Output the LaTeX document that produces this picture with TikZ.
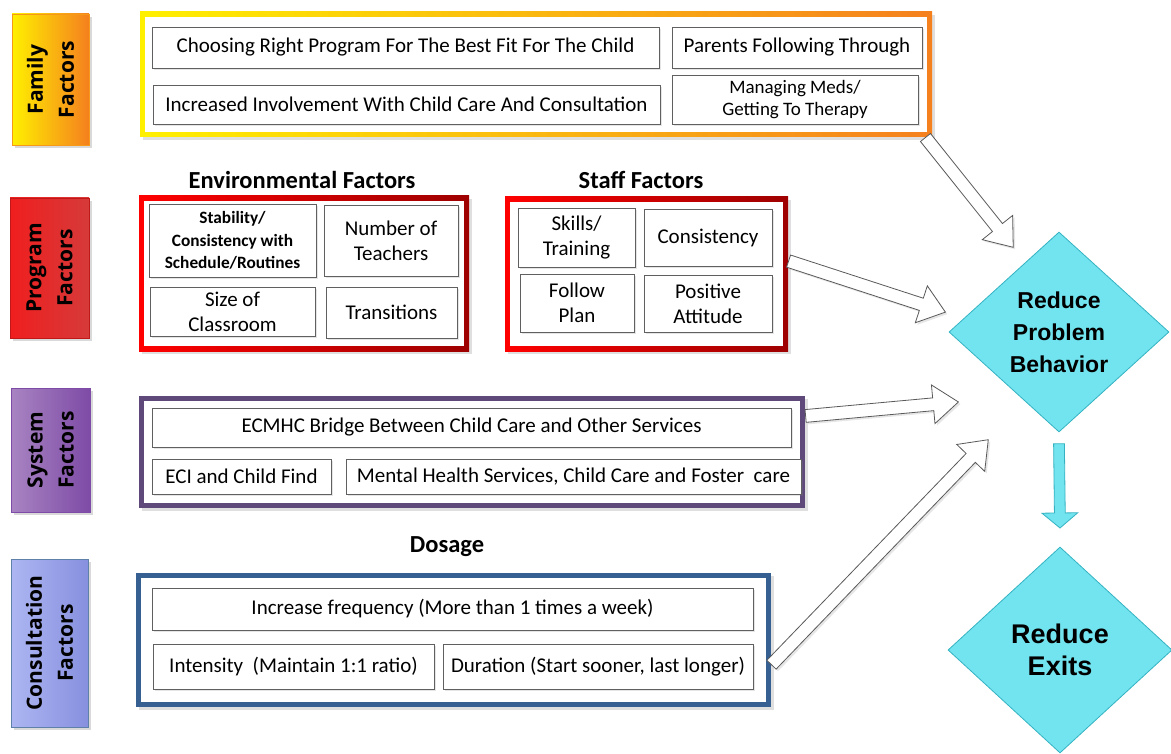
\documentclass[tikz,border=0pt]{standalone}
\usepackage{fontspec}
\setmainfont{Carlito}
\newfontfamily\labelfont{Open Sans}
\newfontfamily\goalfont{Liberation Sans}
\usetikzlibrary{shapes.geometric,shapes.arrows,shadows,calc}
\usepackage{xcolor}

\definecolor{famyellow}{HTML}{FFF000}
\definecolor{famorange}{HTML}{F5801E}
\definecolor{progred}{HTML}{F01E1E}
\definecolor{progdark}{HTML}{D63A3A}
\definecolor{framered}{HTML}{FF0000}
\definecolor{framedark}{HTML}{9E0000}
\definecolor{syslight}{HTML}{A884C2}
\definecolor{sysdark}{HTML}{7E4BA6}
\definecolor{sysframe}{HTML}{5F497A}
\definecolor{conslight}{HTML}{ADB6F2}
\definecolor{consdark}{HTML}{8790DE}
\definecolor{consframe}{HTML}{376092}
\definecolor{goalfill}{HTML}{72E4EF}
\definecolor{goaldraw}{HTML}{34B2C2}

\begin{document}
\begin{tikzpicture}[x=1pt,y=-1pt,
sidelabel/.style={
	rotate=90, inner sep=0pt, align=center, shading angle=-45,
	font=\labelfont\bfseries\fontsize{21}{31}\selectfont,
	drop shadow={opacity=0.3, shadow xshift=3pt, shadow yshift=-3pt},
},
frame/.style={
	inner sep=0pt,
	drop shadow={opacity=0.25, shadow xshift=3pt, shadow yshift=-3pt},
	path picture={\fill[white] ([shift={(5pt,-5pt)}]path picture bounding box.north west) rectangle ([shift={(-5pt,5pt)}]path picture bounding box.south east);},
},
item/.style={
	draw=gray!75!black, fill=white, line width=0.9pt,
	inner sep=1pt, align=center,
	font=\fontsize{21}{25}\selectfont,
	drop shadow={opacity=0.2, shadow xshift=2pt, shadow yshift=-2pt},
},
title/.style={font=\bfseries\fontsize{24.5}{28}\selectfont},
goal/.style={
	diamond, inner sep=0pt, align=center,
	fill=goalfill, draw=goaldraw, line width=0.8pt,
	font=\goalfont\bfseries,
},
bigarrow/.style={
	single arrow, draw=gray!70!black, fill=white, line width=0.8pt,
	inner sep=6pt, single arrow head extend=13pt,
	single arrow tip angle=75, single arrow head indent=0pt,
	sloped, allow upside down, pos=0, anchor=tail,
	drop shadow={opacity=0.2, shadow xshift=2pt, shadow yshift=-2pt},
},
downarrow/.style={
	single arrow, draw=goaldraw, fill=goalfill, line width=0.8pt,
	inner sep=5pt, single arrow head extend=12.5pt,
	single arrow tip angle=100, single arrow head indent=0pt,
	sloped, allow upside down, pos=0, anchor=tail,
},
]
\useasboundingbox (0,0) rectangle (1171,754);

% side labels
\node[sidelabel, left color=famyellow, right color=famorange, draw=famorange!80!yellow,
	minimum width=131pt, minimum height=77pt] (famlabel) at (50.5,79.5) {Family\\Factors};
\node[sidelabel, left color=progred, right color=progdark, draw=progred!80!black,
	minimum width=140pt, minimum height=79pt] (proglabel) at (49.5,268) {Program\\Factors};
\node[sidelabel, left color=syslight, right color=sysdark, draw=sysdark,
	minimum width=124pt, minimum height=79pt] (syslabel) at (50.5,450) {System\\Factors};
\node[sidelabel, left color=conslight, right color=consdark, draw=consframe!80,
	minimum width=168pt, minimum height=77pt] (conslabel) at (49.5,643) {Consultation\\Factors};

% family factors
\node[frame, left color=famyellow, right color=famorange,
	minimum width=792pt, minimum height=125pt] (famframe) at (536,74.5) {};
\node[item, minimum width=507pt, minimum height=41pt] (choose) at (405.5,47.5)
	{Choosing Right Program For The Best Fit For The Child};
\node[item, minimum width=250pt, minimum height=41pt] (parents) at (797,47.5)
	{Parents Following Through};
\node[item, minimum width=507pt, minimum height=39pt] (involve) at (406.5,104.5)
	{Increased Involvement With Child Care And Consultation};
\node[item, minimum width=246pt, minimum height=49pt, font=\fontsize{19}{22}\selectfont] (meds) at (795,99.5)
	{Managing Meds/\\Getting To Therapy};

% program factors
\node[title] (envtitle) at (302,180) {Environmental Factors};
\node[frame, left color=framered, right color=framedark,
	minimum width=330pt, minimum height=155pt] (envframe) at (304,273.5) {};
\node[item, minimum width=167pt, minimum height=73pt, font=\bfseries\fontsize{17.3}{22.5}\selectfont] (stability) at (232.5,240.5)
	{Stability/\\Consistency with\\Schedule/Routines};
\node[item, minimum width=134pt, minimum height=71pt] (teachers) at (391,240.5) {Number of\\Teachers};
\node[item, minimum width=165pt, minimum height=49pt] (classroom) at (232.5,311.5) {Size of\\Classroom};
\node[item, minimum width=131pt, minimum height=51pt] (transitions) at (391.5,312.5) {Transitions};

\node[title] (stafftitle) at (641,180) {Staff Factors};
\node[frame, left color=framered, right color=framedark,
	minimum width=283pt, minimum height=154pt] (staffframe) at (646.5,274) {};
\node[item, minimum width=117pt, minimum height=59pt] (skills) at (576.5,237.5) {Skills/\\Training};
\node[item, minimum width=128pt, minimum height=57pt] (consistency) at (708,237.5) {Consistency};
\node[item, minimum width=114pt, minimum height=58pt] (follow) at (577,303) {Follow\\Plan};
\node[item, minimum width=128pt, minimum height=57pt] (attitude) at (708,303.5) {Positive\\Attitude};

% system factors
\node[frame, fill=sysframe, minimum width=666pt, minimum height=112pt] (sysframe) at (472,452) {};
\node[item, minimum width=639pt, minimum height=39pt] (bridge) at (471.5,427.5)
	{ECMHC Bridge Between Child Care and Other Services};
\node[item, minimum width=179pt, minimum height=35pt] (eci) at (241.5,476.5) {ECI and Child Find};
\node[item, minimum width=455pt, minimum height=35pt] (mental) at (573.5,476.5)
	{Mental Health Services, Child Care and Foster\ \ care};

% consultation factors
\node[title] (dosagetitle) at (447,547) {Dosage};
\node[frame, fill=consframe, minimum width=635pt, minimum height=134pt] (consframe) at (453.5,640) {};
\node[item, minimum width=601pt, minimum height=42pt] (frequency) at (452.5,609)
	{Increase frequency (More than 1 times a week)};
\node[item, minimum width=281pt, minimum height=45pt] (intensity) at (293.5,666.5)
	{Intensity\ \ (Maintain 1:1 ratio)};
\node[item, minimum width=310pt, minimum height=45pt] (duration) at (598,666.5)
	{Duration (Start sooner, last longer)};

% outcomes
\node[goal, minimum width=220pt, minimum height=200pt, font=\goalfont\bfseries\fontsize{23}{32}\selectfont]
	(behavior) at (1059,332) {Reduce\\Problem\\Behavior};
\node[goal, minimum width=224pt, minimum height=206pt, font=\goalfont\bfseries\fontsize{27}{32}\selectfont]
	(exits) at (1060,650) {Reduce\\Exits};

% arrow ends
\coordinate (famstart) at ($(famframe.south east)+(-7,0)$);
\coordinate (staffstart) at ($(staffframe.east)+(0,-13)$);
\coordinate (sysstart) at ($(sysframe.east)+(0,-36)$);
\coordinate (consstart) at ($(consframe.east)+(0,25)$);
\coordinate (famtip) at ($(behavior.center)+(-46,-85)$);
\coordinate (stafftip) at ($(behavior.center)+(-114,-20)$);
\coordinate (systip) at ($(behavior.center)+(-101,70)$);
\coordinate (constip) at ($(behavior.center)+(-71,108)$);
\coordinate (downstart) at ($(behavior.south)+(0,11)$);
\coordinate (downtip) at ($(exits.north)+(0,-19)$);

\path let \p1=($(famtip)-(famstart)$), \n1={veclen(\x1,\y1)} in
	(famstart) -- (famtip) node[bigarrow, minimum height=\n1] {};
\path let \p1=($(stafftip)-(staffstart)$), \n1={veclen(\x1,\y1)} in
	(staffstart) -- (stafftip) node[bigarrow, minimum height=\n1] {};
\path let \p1=($(systip)-(sysstart)$), \n1={veclen(\x1,\y1)} in
	(sysstart) -- (systip) node[bigarrow, minimum height=\n1] {};
\path let \p1=($(constip)-(consstart)$), \n1={veclen(\x1,\y1)} in
	(consstart) -- (constip) node[bigarrow, minimum height=\n1] {};
\path let \p1=($(downtip)-(downstart)$), \n1={veclen(\x1,\y1)} in
	(downstart) -- (downtip) node[downarrow, minimum height=\n1] {};
\end{tikzpicture}
\end{document}
